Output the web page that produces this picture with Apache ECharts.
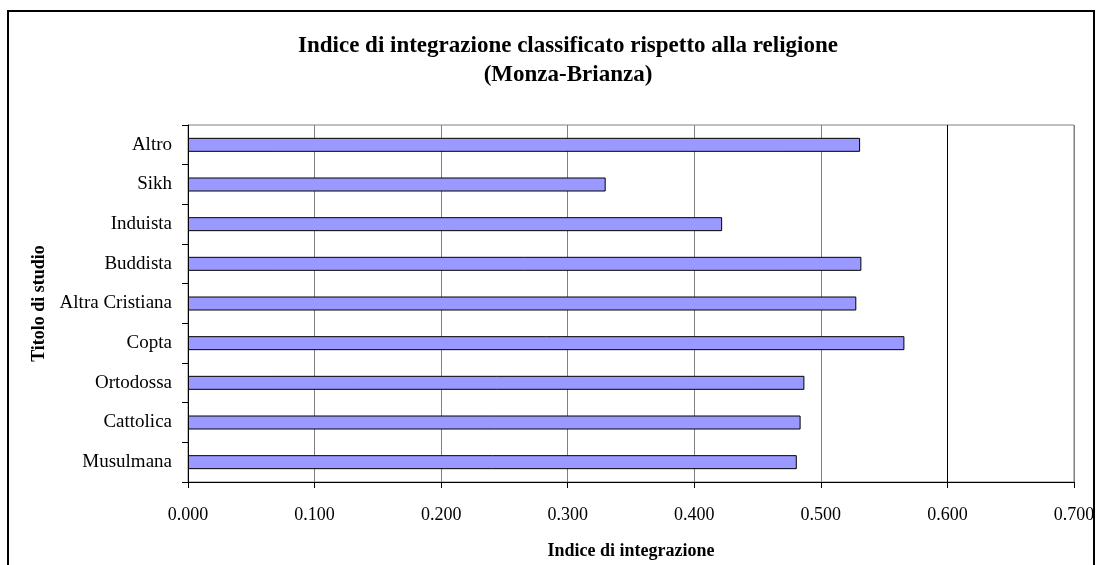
<!DOCTYPE html>
<html>
<head>
<meta charset="utf-8">
<script src="https://cdn.jsdelivr.net/npm/echarts@6/dist/echarts.min.js"></script>
<style>
html,body{margin:0;padding:0;background:#fff;}
#chart{width:1098px;height:565px;}
</style>
</head>
<body>
<div id="chart"></div>
<script>
// Data (bottom to top as drawn)
const categories = ['Musulmana', 'Cattolica', 'Ortodossa', 'Copta', 'Altra Cristiana', 'Buddista', 'Induista', 'Sikh', 'Altro'];
const values = [0.481, 0.484, 0.487, 0.566, 0.528, 0.532, 0.422, 0.330, 0.531];
const xTickValues = [0, 0.1, 0.2, 0.3, 0.4, 0.5, 0.6, 0.7];
const titleText = 'Indice di integrazione classificato rispetto alla religione\n(Monza-Brianza)';
const xName = 'Indice di integrazione';
const yName = 'Titolo di studio';

const FONT = '"Liberation Serif", "Times New Roman", serif';
const chart = echarts.init(document.getElementById('chart'), null, {renderer: 'canvas'});
chart.setOption({
  backgroundColor: '#ffffff',
  animation: false,
  title: {
    text: titleText,
    left: 563,
    top: 27,
    textAlign: 'center',
    textStyle: {fontFamily: FONT, fontSize: 23, fontWeight: 'bold', color: '#000', lineHeight: 29}
  },
  graphic: [{
    type: 'rect',
    shape: {x: 8, y: 11, width: 1086, height: 620},
    style: {fill: 'none', stroke: '#000', lineWidth: 2},
    silent: true,
    z: 100
  }],
  grid: {
    left: 188, right: 24, top: 125, bottom: 83,
    show: true, borderColor: '#808080', borderWidth: 1, backgroundColor: '#fff'
  },
  xAxis: {
    type: 'value',
    min: 0, max: 0.7, interval: 0.1,
    name: xName,
    nameLocation: 'middle',
    nameGap: 60,
    nameTextStyle: {fontFamily: FONT, fontSize: 18, fontWeight: 'bold', color: '#000'},
    axisLine: {show: true, lineStyle: {color: '#000', width: 1}},
    axisTick: {show: true, length: 6, lineStyle: {color: '#000'}},
    axisLabel: {
      fontFamily: FONT, fontSize: 18, color: '#000', margin: 24,
      formatter: v => v.toFixed(3)
    },
    splitLine: {show: true, lineStyle: {color: '#808080', width: 1}}
  },
  yAxis: {
    type: 'category',
    data: categories,
    boundaryGap: true,
    name: yName,
    nameLocation: 'middle',
    nameGap: 140,
    nameRotate: 90,
    nameTextStyle: {fontFamily: FONT, fontSize: 18, fontWeight: 'bold', color: '#000'},
    axisLine: {show: true, lineStyle: {color: '#000', width: 1}},
    axisTick: {show: true, length: 6, alignWithLabel: false, lineStyle: {color: '#000'}},
    axisLabel: {fontFamily: FONT, fontSize: 19, color: '#000', margin: 16},
    splitLine: {show: false}
  },
  series: [{
    type: 'bar',
    data: values,
    barWidth: 14,
    itemStyle: {color: '#9999ff', borderColor: '#000', borderWidth: 1},
    markLine: {
      silent: true,
      symbol: 'none',
      label: {show: false},
      lineStyle: {color: '#000', width: 1, type: 'solid'},
      data: [{xAxis: xTickValues[6]}],
      z: 1
    }
  }]
});
</script>
</body>
</html>
